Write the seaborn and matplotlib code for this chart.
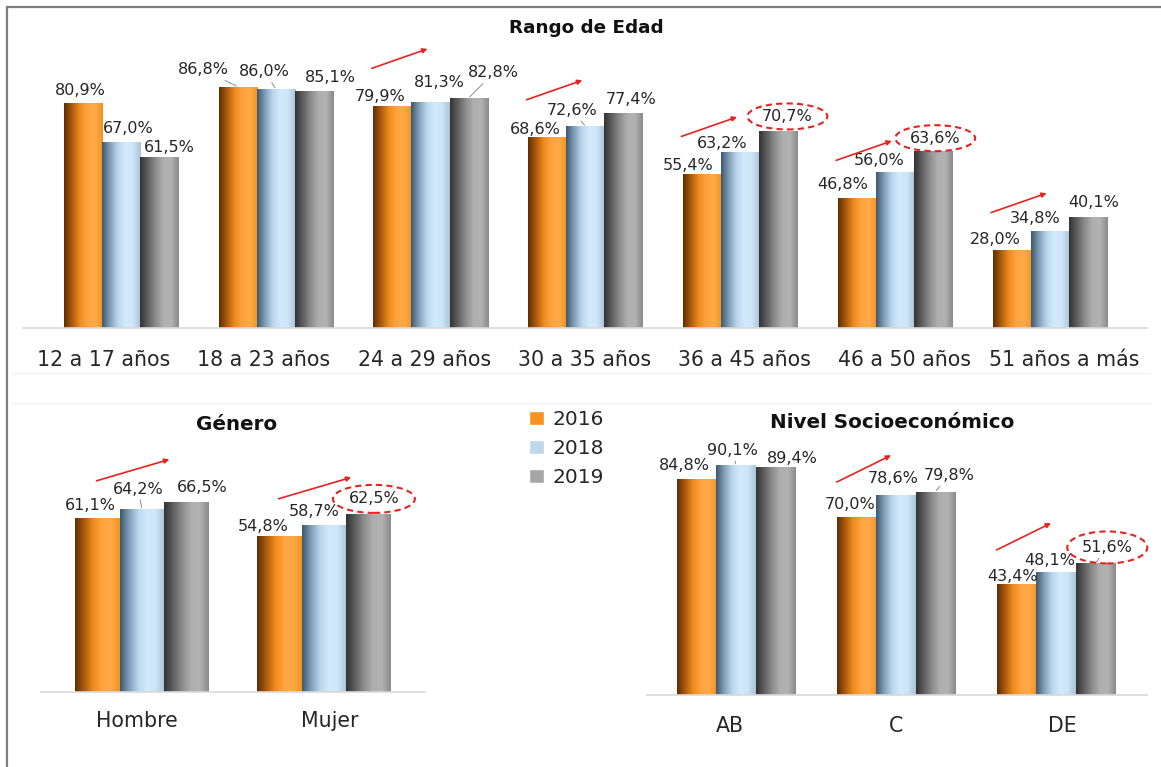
import matplotlib

matplotlib.use("Agg")

import matplotlib.pyplot as plt
import matplotlib.transforms as mtransforms
import numpy as np
import pandas as pd
import seaborn as sns
from matplotlib.colors import LinearSegmentedColormap, to_hex
from matplotlib.lines import Line2D
from matplotlib.patches import Ellipse, Rectangle

years = ["2016", "2018", "2019"]
year_colors = ["#F7941D", "#BDD7EE", "#A6A6A6"]

edad_labels = ["12 a 17 años", "18 a 23 años", "24 a 29 años", "30 a 35 años",
               "36 a 45 años", "46 a 50 años", "51 años a más"]
edad_2016 = [80.9, 86.8, 79.9, 68.6, 55.4, 46.8, 28.0]
edad_2018 = [67.0, 86.0, 81.3, 72.6, 63.2, 56.0, 34.8]
edad_2019 = [61.5, 85.1, 82.8, 77.4, 70.7, 63.6, 40.1]

genero_labels = ["Hombre", "Mujer"]
genero_2016 = [61.1, 54.8]
genero_2018 = [64.2, 58.7]
genero_2019 = [66.5, 62.5]

nse_labels = ["AB", "C", "DE"]
nse_2016 = [84.8, 70.0, 43.4]
nse_2018 = [90.1, 78.6, 48.1]
nse_2019 = [89.4, 79.8, 51.6]

# hand-placed data labels (pixel offsets from the top of each bar), like the original slide
edad_label_offsets = [
    [(-2, 13), (7, 13), (10, 10)],
    [(-34, 17), (-11, 17), (16, 14)],
    [(-12, 9), (9, 19), (25, 25)],
    [(-12, 8), (-13, 16), (8, 13)],
    [(-14, 8), (-18, 9), (9, 15)],
    [(-14, 13), (-16, 12), (2, 13)],
    [(-16, 11), (-15, 13), (6, 14)],
]
genero_label_offsets = [
    [(-7, 12), (-4, 20), (15, 15)],
    [(-16, 9), (-10, 13), (5, 15)],
]
nse_label_offsets = [
    [(-12, 13), (-3, 15), (17, 9)],
    [(-6, 12), (-3, 16), (14, 16)],
    [(-4, 8), (-6, 12), (12, 16)],
]

W, H = 1161, 767
RED = "#E8231F"
TEXT = "#262626"

shades = {
    "#f7941d": ["#5e2e05", "#a9590d", "#ee8a1c", "#ffa43c", "#ffaa46", "#f19322"],
    "#bdd7ee": ["#3f566b", "#7f9db6", "#b9d5ed", "#d3eafc", "#cde5f9", "#a8c2d9"],
    "#a6a6a6": ["#333333", "#5e5e5e", "#8c8c8c", "#aeaeae", "#b2b2b2", "#8a8a8a"],
}


def long_frame(labels, v16, v18, v19):
    rows = []
    for year, values in zip(years, [v16, v18, v19]):
        for label, value in zip(labels, values):
            rows.append({"grupo": label, "anio": year, "valor": value})
    return pd.DataFrame(rows)


def pct(v):
    return f"{v:.1f}%".replace(".", ",")


def add_axes(fig, left, baseline, right, height):
    return fig.add_axes([left / W, 1 - baseline / H, (right - left) / W, height / H])


def shade_bars(ax):
    grad = np.linspace(0, 1, 256).reshape(1, -1)
    for patch in list(ax.patches):
        key = to_hex(patch.get_facecolor())
        cmap = LinearSegmentedColormap.from_list(key, shades[key])
        x0, w, h = patch.get_x(), patch.get_width(), patch.get_height()
        im = ax.imshow(grad, cmap=cmap, aspect="auto", interpolation="bilinear",
                       extent=(x0, x0 + w, 0, h), zorder=patch.get_zorder() + 0.1)
        im.set_clip_path(patch)


def draw_panel(fig, ax, labels, values, offsets, xlim, tick_shift, tick_step, pad,
               leaders=(), circled=(), ellipse_px=(80, 26), arrow_groups=(),
               arrow_x=(-0.38, -0.02), arrow_y=(13.5, 20.5), legend=False):
    data = long_frame(labels, *values)
    sns.barplot(data=data, x="grupo", y="valor", hue="anio", hue_order=years,
                palette=year_colors, width=0.74, saturation=1, legend=legend, ax=ax)
    shade_bars(ax)

    for hue_i, container in enumerate(ax.containers):
        for k, bar in enumerate(container):
            x = bar.get_x() + bar.get_width() / 2
            top = values[hue_i][k]
            dx, dy = offsets[k][hue_i]
            props = None
            if (k, hue_i) in leaders:
                props = dict(arrowstyle="-", color="#8c8c8c", lw=0.7, shrinkA=0, shrinkB=1)
            ax.annotate(pct(top), xy=(x, top), xytext=(dx, dy), textcoords="offset pixels",
                        ha="center", va="center", fontsize=11.5, color=TEXT,
                        arrowprops=props, annotation_clip=False, zorder=5)
            if (k, hue_i) in circled:
                trans = fig.dpi_scale_trans + mtransforms.ScaledTranslation(x, top, ax.transData)
                fig.add_artist(Ellipse((dx / 100, dy / 100), ellipse_px[0] / 100, ellipse_px[1] / 100,
                                       transform=trans, fill=False, ec=RED, lw=1.5,
                                       ls=(0, (3, 2)), zorder=6))

    for k in arrow_groups:
        base = values[0][k]
        ax.annotate("", xy=(k + arrow_x[1], base + arrow_y[1]),
                    xytext=(k + arrow_x[0], base + arrow_y[0]),
                    arrowprops=dict(arrowstyle="-|>", color=RED, lw=1.2, mutation_scale=7,
                                    shrinkA=0, shrinkB=0),
                    annotation_clip=False, zorder=6)

    ax.set_xlim(*xlim)
    ax.set_ylim(0, 100)
    ax.set_xticks(tick_shift + np.arange(len(labels)) * tick_step, labels)
    ax.set_yticks([])
    ax.set_xlabel("")
    ax.set_ylabel("")
    for side in ["top", "left", "right"]:
        ax.spines[side].set_visible(False)
    ax.spines["bottom"].set_color("#d9d9d9")
    ax.spines["bottom"].set_linewidth(1.2)
    ax.tick_params(axis="x", length=0, pad=pad, labelsize=14.8, labelcolor=TEXT)
    ax.set_facecolor("none")


sns.set_theme(style="white")
plt.rcParams["font.family"] = ["DejaVu Sans"]

fig = plt.figure(figsize=(W / 100, H / 100), dpi=100)

fig.add_artist(Rectangle((7 / W, -0.1), 1.2, 1.1 - 7 / H, transform=fig.transFigure,
                         fill=False, ec="#7f7f7f", lw=1.6))
for y in [373, 403]:
    fig.add_artist(Line2D([12 / W, 1150 / W], [1 - y / H] * 2, color="#f2f2f2", lw=1))

ax_edad = add_axes(fig, 23, 328, 1147, 278)
draw_panel(fig, ax_edad, edad_labels, [edad_2016, edad_2018, edad_2019], edad_label_offsets,
           xlim=(-0.633, 6.628), tick_shift=-0.11, tick_step=1.034, pad=16,
           leaders=[(1, 0), (1, 1), (2, 2), (3, 1)], circled=[(4, 2), (5, 2)],
           ellipse_px=(80, 26), arrow_groups=[2, 3, 4, 5, 6], legend=True)

ax_gen = add_axes(fig, 41, 692, 425, 285)
draw_panel(fig, ax_gen, genero_labels, [genero_2016, genero_2018, genero_2019], genero_label_offsets,
           xlim=(-0.555, 1.555), tick_shift=-0.03, tick_step=1.06, pad=14,
           leaders=[(0, 1)], circled=[(1, 2)], ellipse_px=(82, 28),
           arrow_groups=[0, 1], arrow_x=(-0.25, 0.15), arrow_y=(13, 20.5))

ax_nse = add_axes(fig, 647, 695, 1147, 255)
draw_panel(fig, ax_nse, nse_labels, [nse_2016, nse_2018, nse_2019], nse_label_offsets,
           xlim=(-0.556, 2.57), tick_shift=-0.04, tick_step=1.04, pad=15,
           leaders=[(0, 1), (1, 2), (2, 2)], circled=[(2, 2)], ellipse_px=(80, 32),
           arrow_groups=[1, 2], arrow_x=(-0.37, -0.03), arrow_y=(13.5, 24))

handles, names = ax_edad.get_legend_handles_labels()
ax_edad.get_legend().remove()
fig.legend(handles, names, loc="upper left", bbox_to_anchor=(529 / W, 1 - 410 / H),
           frameon=False, fontsize=14.5, handlelength=0.75, handleheight=0.75,
           handletextpad=0.4, labelspacing=0.5, borderpad=0, borderaxespad=0)

fig.text(586 / W, 1 - 28 / H, "Rango de Edad", ha="center", va="center",
         fontsize=13.2, fontweight="bold", color="#111111")
fig.text(237 / W, 1 - 425 / H, "Género", ha="center", va="center",
         fontsize=14.3, fontweight="bold", color="#111111")
fig.text(892 / W, 1 - 423 / H, "Nivel Socioeconómico", ha="center", va="center",
         fontsize=14.3, fontweight="bold", color="#111111")

fig.savefig("out.png", dpi=100, facecolor="white")
plt.close(fig)
